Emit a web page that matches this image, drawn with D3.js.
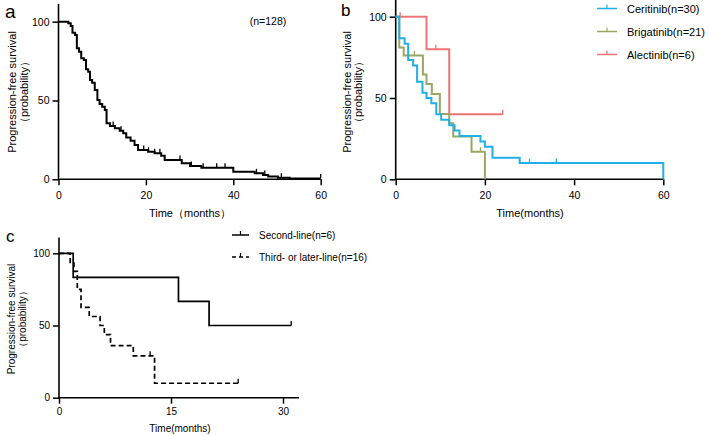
<!DOCTYPE html>
<html>
<head>
<meta charset="utf-8">
<script src="https://cdn.jsdelivr.net/npm/d3@7"></script>
<style>
  html, body { margin: 0; padding: 0; background: #fff; }
  svg { display: block; font-family: "Liberation Sans", Arial, sans-serif; }
</style>
</head>
<body>
<svg id="chart" width="709" height="436"></svg>
<script>
// ---------------- DATA ----------------
// Panel a: overall cohort (n=128)
const aTime = [0, 2.25, 2.8, 3.2, 3.8, 4.2, 4.7, 5.2, 5.8, 6.3, 6.8, 7.2, 7.7, 8.3, 8.9, 9.4, 10.0, 10.6, 11.0, 11.8, 12.9, 14.0, 14.8, 15.5, 16.5, 17.4, 18.2, 20.5, 22.0, 23.5, 24.3, 28.2, 30.1, 32.7, 40.0, 44.9, 46.8, 48.0, 50.2, 52.9, 60];
const aSurv = [100, 99, 97.3, 93, 91.6, 83.1, 81, 76.8, 75.7, 69.8, 68.3, 63, 61.3, 56.7, 50.3, 47.8, 46.1, 44, 35.5, 33.8, 32.4, 30.8, 29.2, 26.6, 24.5, 21.8, 18.6, 17.5, 16.5, 15, 12.3, 10.2, 8.4, 7.4, 4.8, 3.8, 2.7, 1.7, 1.0, 0.5, 0.5];
const aCensor = [12.5, 14.3, 19.5, 20.6, 22, 23.2, 27.8, 30.4, 33.1, 36.2, 38.1, 45.3, 47.2, 51, 60];
const aNote = "(n=128)";

// Panel b: by drug
const bSeriesNames = ["Ceritinib(n=30)", "Brigatinib(n=21)", "Alectinib(n=6)"];
const cerTime = [0, 0.8, 2.0, 2.8, 3.9, 4.8, 6.0, 6.9, 8.0, 9.1, 10.2, 12.0, 13.2, 14.3, 19.0, 20.0, 21.7, 27.8, 60];
const cerSurv = [100, 86.7, 83.3, 73.3, 70, 60, 53.3, 50, 46.7, 40, 36.7, 33.3, 30, 26.7, 23.3, 20, 13.3, 10, 0];
const cerCensor = [30, 36];
const brigTime = [0, 0.8, 1.8, 6.1, 6.9, 8.1, 9.9, 12.0, 12.9, 17.0, 20.0];
const brigSurv = [100, 81, 76.2, 64.5, 58.6, 52.5, 40.2, 34.4, 26.3, 17, 0];
const brigCensor = [4.2, 19];
const alecTime = [0, 6.9, 12.0, 24];
const alecSurv = [100, 80, 40, 40];
const alecCensor = [1, 9, 24];

// Panel c: by line of therapy
const cSeriesNames = ["Second-line(n=6)", "Third- or later-line(n=16)"];
const secTime = [0, 1.9, 16.0, 20.1, 31.1];
const secSurv = [100, 83.3, 66.7, 50, 50];
const secCensor = [31.1];
const thirdTime = [0, 1.5, 2.0, 2.45, 2.95, 4.05, 5.5, 6.07, 6.9, 9.95, 12.8, 24.0];
const thirdSurv = [100, 93.75, 87.5, 75, 62.5, 56.25, 50, 43.75, 36, 29, 10, 10];
const thirdCensor = [12.2, 24.0];

const abYTicks = [0, 50, 100];
const abXTicks = [0, 20, 40, 60];
const cYTicks = [0, 50, 100];
const cXTicks = [0, 15, 30];

// ---------------- DRAWING ----------------
const svg = d3.select("#chart");
const FONT = '"Liberation Sans", Arial, sans-serif';

function survAt(times, surv, t) {
  let s = surv[0];
  for (let i = 0; i < times.length; i++) { if (times[i] <= t) s = surv[i]; }
  return s;
}

function drawAxes(p) {
  const g = svg.append("g");
  const yAx = d3.axisLeft(p.y).tickValues(p.yTicks).tickSize(6).tickPadding(3).tickSizeOuter(0);
  const gy = g.append("g").attr("transform", `translate(${p.x(0)},0)`).call(yAx);
  gy.select(".domain").remove();
  gy.selectAll("line").attr("stroke", "#000").attr("stroke-width", 1.5);
  gy.selectAll("text").attr("font-size", p.tickFont).attr("font-family", FONT).attr("fill", "#000");
  const xAx = d3.axisBottom(p.x).tickValues(p.xTicks).tickSize(6).tickPadding(p.xPad).tickSizeOuter(0);
  const gx = g.append("g").attr("transform", `translate(0,${p.y(0)})`).call(xAx);
  gx.select(".domain").remove();
  gx.selectAll("line").attr("stroke", "#000").attr("stroke-width", 1.5);
  gx.selectAll("text").attr("font-size", p.tickFont).attr("font-family", FONT).attr("fill", "#000");
  g.append("line").attr("x1", p.x(0)).attr("x2", p.x(0)).attr("y1", p.y(0) + 0.75).attr("y2", p.y(p.yTop))
    .attr("stroke", "#000").attr("stroke-width", 1.6);
  g.append("line").attr("x1", p.x(0)).attr("x2", p.x(p.xEnd)).attr("y1", p.y(0)).attr("y2", p.y(0))
    .attr("stroke", "#000").attr("stroke-width", 1.6);
  const cy = p.yTitleY;
  g.append("text").attr("transform", `translate(${p.yTitleX1},${cy}) rotate(-90)`)
    .attr("text-anchor", "middle").attr("font-size", p.titleFont).attr("font-family", FONT)
    .text("Progression-free survival");
  g.append("text").attr("transform", `translate(${p.yTitleX2},${cy}) rotate(-90)`)
    .attr("text-anchor", "middle").attr("font-size", p.titleFont).attr("font-family", FONT)
    .text("（probability）");
  g.append("text").attr("x", p.xTitleX).attr("y", p.xTitleY).attr("text-anchor", "middle")
    .attr("font-size", p.titleFont).attr("font-family", FONT).text(p.xTitle);
  g.append("text").attr("x", p.letterX).attr("y", p.letterY).attr("font-size", p.letterFont)
    .attr("font-family", FONT).text(p.letter);
}

function drawCurve(p, times, surv, censor, color, dash, width) {
  const pts = times.map((t, i) => [t, surv[i]]);
  const line = d3.line().x(d => p.x(d[0])).y(d => p.y(d[1])).curve(d3.curveStepAfter);
  svg.append("path").attr("d", line(pts)).attr("fill", "none").attr("stroke", color)
    .attr("stroke-width", width).attr("stroke-dasharray", dash || null)
    .attr("stroke-linejoin", "miter").attr("stroke-linecap", "butt");
  svg.append("g").selectAll("line").data(censor).join("line")
    .attr("x1", d => p.x(d)).attr("x2", d => p.x(d))
    .attr("y1", d => p.y(survAt(times, surv, d)))
    .attr("y2", d => p.y(survAt(times, surv, d)) - 4.5)
    .attr("stroke", color).attr("stroke-width", 1.3);
}

// Panel a
const pa = {
  x: d3.scaleLinear().domain([0, 60]).range([58.5, 320.7]),
  y: d3.scaleLinear().domain([0, 100]).range([179.3, 21.7]),
  yTop: 111.3, xEnd: 60, yTicks: abYTicks, xTicks: abXTicks, xPad: 6,
  tickFont: "10.5px", titleFont: "11px", letterFont: "19px",
  yTitleX1: 15.5, yTitleX2: 27.5, yTitleY: 92,
  xTitle: "Time（months）", xTitleX: 190, xTitleY: 217,
  letter: "a", letterX: 5, letterY: 18
};
drawAxes(pa);
drawCurve(pa, aTime, aSurv, aCensor, "#000", null, 2);
svg.append("text").attr("x", 268).attr("y", 24.5).attr("text-anchor", "middle")
  .attr("font-size", "10.5px").attr("font-family", FONT).text(aNote);

// Panel b
const pb = {
  x: d3.scaleLinear().domain([0, 60]).range([395.7, 663.3]),
  y: d3.scaleLinear().domain([0, 100]).range([179.3, 16.7]),
  yTop: 110.3, xEnd: 60, yTicks: abYTicks, xTicks: abXTicks, xPad: 6,
  tickFont: "10.5px", titleFont: "11px", letterFont: "17px",
  yTitleX1: 350.5, yTitleX2: 362, yTitleY: 92,
  xTitle: "Time(months)", xTitleX: 530, xTitleY: 217,
  letter: "b", letterX: 341, letterY: 16
};
drawAxes(pb);
const bColors = ["#22aee6", "#98a863", "#f07476"];
drawCurve(pb, alecTime, alecSurv, alecCensor, bColors[2], null, 2);
drawCurve(pb, brigTime, brigSurv, brigCensor, bColors[1], null, 2);
drawCurve(pb, cerTime, cerSurv, cerCensor, bColors[0], null, 2);

const legB = svg.append("g");
bSeriesNames.forEach((name, i) => {
  const yy = 8.5 + i * 23;
  legB.append("line").attr("x1", 597).attr("x2", 617).attr("y1", yy).attr("y2", yy)
    .attr("stroke", bColors[i]).attr("stroke-width", 1.5);
  legB.append("line").attr("x1", 607).attr("x2", 607).attr("y1", yy).attr("y2", yy - 4)
    .attr("stroke", bColors[i]).attr("stroke-width", 1.2);
  legB.append("text").attr("x", 627).attr("y", yy + 4).attr("font-size", "11px")
    .attr("font-family", FONT).text(name);
});

// Panel c
const pc = {
  x: d3.scaleLinear().domain([0, 15]).range([59, 171]),
  y: d3.scaleLinear().domain([0, 100]).range([397.7, 253.3]),
  yTop: 111, xEnd: 32.14, yTicks: cYTicks, xTicks: cXTicks, xPad: 4,
  tickFont: "10px", titleFont: "10px", letterFont: "17px",
  yTitleX1: 14.5, yTitleX2: 25.5, yTitleY: 319,
  xTitle: "Time(months)", xTitleX: 180, xTitleY: 432,
  letter: "c", letterX: 6, letterY: 242
};
drawAxes(pc);
drawCurve(pc, secTime, secSurv, secCensor, "#000", null, 1.7);
drawCurve(pc, thirdTime, thirdSurv, thirdCensor, "#000", "5,3", 1.7);

const legC = svg.append("g");
cSeriesNames.forEach((name, i) => {
  const yy = 235 + i * 22;
  legC.append("line").attr("x1", 232).attr("x2", 249).attr("y1", yy).attr("y2", yy)
    .attr("stroke", "#000").attr("stroke-width", 1.5)
    .attr("stroke-dasharray", i === 1 ? "4,3" : null);
  legC.append("line").attr("x1", 240.5).attr("x2", 240.5).attr("y1", yy).attr("y2", yy - 4)
    .attr("stroke", "#000").attr("stroke-width", 1.2);
  legC.append("text").attr("x", 259).attr("y", yy + 3.5).attr("font-size", "10px")
    .attr("font-family", FONT).text(name);
});
</script>
</body>
</html>
